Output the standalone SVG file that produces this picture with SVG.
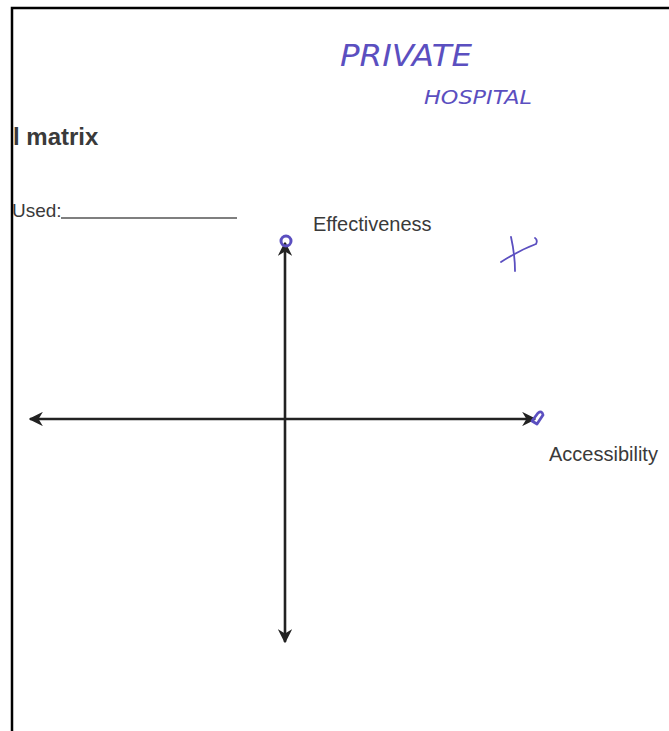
<svg xmlns="http://www.w3.org/2000/svg" width="669" height="731" viewBox="0 0 669 731">
<style>
.lbl{font-family:"Liberation Sans",Arial,sans-serif;fill:#3a3a3a}
.ink{fill:none;stroke:#5b4fc0;stroke-linecap:round;stroke-linejoin:round}
.hand{font-family:"DejaVu Sans","Liberation Sans",sans-serif;fill:#5b4fc0;font-weight:200}
.axis{stroke:#222;stroke-width:2.6;fill:none}
</style>
<defs>
<marker id="ah" viewBox="0 0 10 10" refX="9" refY="5" markerWidth="5.5" markerHeight="5.5" orient="auto-start-reverse" markerUnits="strokeWidth">
<path d="M0,0 L10,5 L0,10 L3,5 Z" fill="#222"/>
</marker>
</defs>
<rect width="669" height="731" fill="#fff"/>
<path d="M12,731 V8 H669" fill="none" stroke="#000" stroke-width="2.5"/>
<g id="title"><text class="lbl" x="13" y="145" font-size="24" font-weight="bold" fill="#222">l matrix</text></g>
<g id="used"><text class="lbl" x="12" y="217" font-size="19">Used:</text><line x1="61" y1="218" x2="237" y2="218" stroke="#555" stroke-width="1.3"/></g>
<g id="handwriting">
<text class="hand" x="340" y="66" font-size="30" font-style="italic" textLength="132" lengthAdjust="spacingAndGlyphs">PRIVATE</text>
<text class="hand" x="424" y="104" font-size="20" font-style="italic" textLength="108" lengthAdjust="spacingAndGlyphs">HOSPITAL</text>
</g>
<g id="connectors">
<line class="axis" x1="285" y1="642" x2="285" y2="243" marker-end="url(#ah)" marker-start="url(#ah)"/>
<line class="axis" x1="30" y1="419" x2="535" y2="419" marker-start="url(#ah)" marker-end="url(#ah)"/>
</g>
<g id="effectiveness"><text class="lbl" x="313" y="231" font-size="20">Effectiveness</text>
<circle class="ink" cx="286" cy="241" r="5" stroke-width="3"/></g>
<g id="accessibility"><text class="lbl" x="549" y="461" font-size="20">Accessibility</text>
<path class="ink" d="M532,421 L538,413 Q542,410 543,415 L537,424 Z" stroke-width="2.8"/></g>
<g id="mark">
<path class="ink" d="M511,237 Q515,255 515,271" stroke-width="1.8"/>
<path class="ink" d="M501,262 Q520,250 536,244 Q538,240 535,238" stroke-width="1.8"/>
</g>
</svg>
